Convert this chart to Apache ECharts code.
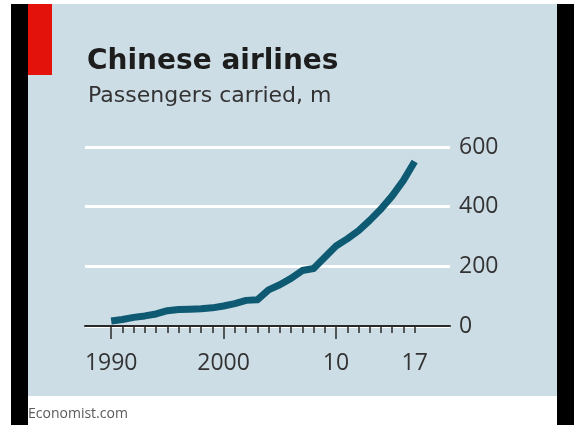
<!DOCTYPE html>
<html>
<head>
<meta charset="utf-8">
<script src="https://cdn.jsdelivr.net/npm/echarts@6/dist/echarts.min.js"></script>
<style>
html,body{margin:0;padding:0;background:#fff;}
#c{width:579px;height:425px;}
</style>
</head>
<body>
<div id="c"></div>
<script>
const years = [1990,1991,1992,1993,1994,1995,1996,1997,1998,1999,2000,2001,2002,2003,2004,2005,2006,2007,2008,2009,2010,2011,2012,2013,2014,2015,2016,2017];
const passengers = [16.6,21.8,28.9,33.8,40.4,51.2,55.6,56.3,57.6,60.9,67.2,75.2,85.9,87.6,121.2,138.3,159.7,185.8,192.5,230.5,268.2,292.1,319.4,354.0,391.9,436.2,488.0,551.2];
const xLabelYears = [1990,2000,2010,2017];
const xLabelText = {1990:'1990',2000:'2000',2010:'10',2017:'17'};
const majorTickYears = [1990,2000,2010];
const yTicks = [0,200,400,600];

const chart = echarts.init(document.getElementById('c'), null, {renderer:'canvas'});
const TFONT = 'DejaVu Sans';
const NFONT = 'Open Sans';
chart.setOption({
  backgroundColor:'#ffffff',
  animation:false,
  textStyle:{fontFamily:NFONT},
  graphic:[
    {type:'rect', z:-100, shape:{x:28,y:4,width:529,height:392}, style:{fill:'#cddde6'}},
    {type:'rect', z:-99, shape:{x:11,y:4,width:17,height:421}, style:{fill:'#000'}},
    {type:'rect', z:-99, shape:{x:557,y:4,width:17,height:421}, style:{fill:'#000'}},
    {type:'rect', z:-99, shape:{x:28,y:4,width:24,height:71}, style:{fill:'#e3120b'}}
  ],
  title:[
    {text:'Chinese airlines', left:82, top:43, textStyle:{fontFamily:TFONT,fontSize:28,fontWeight:'bold',color:'#1d1d1d'}},
    {text:'Passengers carried, m', left:83, top:80, textStyle:{fontFamily:TFONT,fontSize:22,fontWeight:'normal',color:'#333'}},
    {text:'Economist.com', left:23, top:402, textStyle:{fontFamily:NFONT,fontSize:14,fontWeight:'normal',color:'#5a5a5a'}}
  ],
  grid:{left:85,right:129,top:147,bottom:99,containLabel:false},
  xAxis:[
    {type:'value', position:'bottom', min:1987.67, max:2020.14,
     axisLine:{show:true, lineStyle:{color:'#2a2a2a',width:2}},
     axisTick:{show:true, customValues:years, length:7, lineStyle:{color:'#2a2a2a',width:1.5}},
     axisLabel:{show:true, customValues:xLabelYears, margin:26, fontSize:23, color:'#333', fontFamily:NFONT,
       formatter:function(v){return xLabelText[v]||'';}},
     splitLine:{show:false}},
    {type:'value', position:'bottom', offset:0, min:1987.67, max:2020.14,
     axisLine:{show:false},
     axisTick:{show:true, customValues:majorTickYears, length:13, lineStyle:{color:'#2a2a2a',width:1.5}},
     axisLabel:{show:false},
     splitLine:{show:false}}
  ],
  yAxis:{type:'value', position:'right', min:0, max:600, interval:200,
    axisLine:{show:false}, axisTick:{show:false},
    axisLabel:{margin:9, fontSize:23, color:'#333', fontFamily:NFONT,
      customValues:yTicks},
    splitLine:{show:true, lineStyle:{color:'#ffffff', width:3}}},
  series:[{
    type:'line', xAxisIndex:0, yAxisIndex:0,
    data: years.map((y,i)=>[y,passengers[i]]),
    showSymbol:false, symbol:'none',
    lineStyle:{color:'#0d5a72', width:7, cap:'butt', join:'round'},
    z:5
  }]
});
</script>
</body>
</html>
